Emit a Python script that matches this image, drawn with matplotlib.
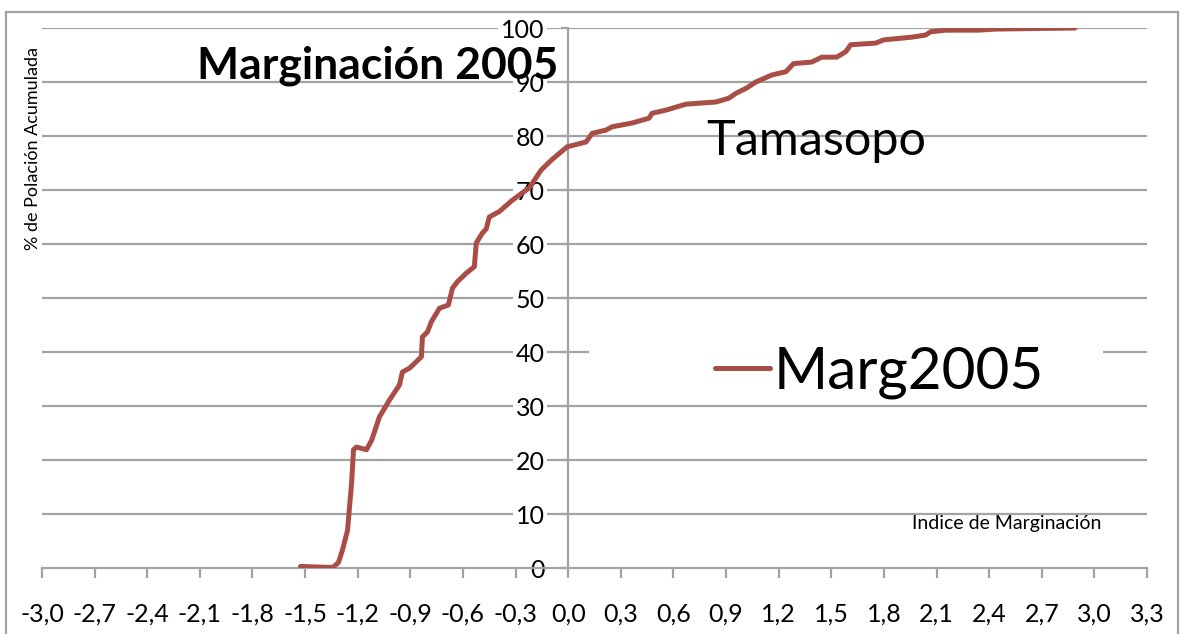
import matplotlib
matplotlib.use('Agg')
import matplotlib.pyplot as plt
from matplotlib.patches import Rectangle
from matplotlib.lines import Line2D
import numpy as np

plt.rcParams['font.family'] = ['Lato', 'DejaVu Sans']

# Marg2005: indice de marginacion vs % de poblacion acumulada
marg_x = [-1.526, -1.45, -1.343, -1.31, -1.287, -1.258, -1.235, -1.224, -1.207, -1.15,
          -1.12, -1.076, -1.019, -0.962, -0.945, -0.905, -0.837, -0.831, -0.803, -0.78,
          -0.734, -0.683, -0.66, -0.632, -0.581, -0.535, -0.524, -0.49, -0.467, -0.45,
          -0.393, -0.319, -0.222, -0.154, -0.097, -0.006, 0.102, 0.137, 0.216, 0.25,
          0.364, 0.461, 0.478, 0.558, 0.672, 0.843, 0.916, 0.956, 1.013, 1.07,
          1.161, 1.241, 1.285, 1.389, 1.446, 1.531, 1.582, 1.611, 1.753, 1.799,
          1.958, 2.038, 2.066, 2.152, 2.34, 2.436, 2.89]
marg_y = [0.3, 0.2, 0.1, 1.0, 3.3, 7.0, 15.7, 21.9, 22.4, 21.9,
          23.7, 28.0, 31.1, 33.9, 36.3, 37.0, 39.1, 42.8, 43.7, 45.6,
          48.1, 48.7, 51.8, 53.0, 54.6, 55.8, 60.2, 62.0, 62.8, 65.0,
          66.0, 68.1, 70.4, 73.7, 75.5, 78.0, 78.9, 80.5, 81.1, 81.7,
          82.4, 83.3, 84.2, 84.8, 85.9, 86.3, 87.0, 87.9, 88.8, 90.0,
          91.3, 91.9, 93.4, 93.7, 94.6, 94.6, 95.6, 96.9, 97.2, 97.8,
          98.3, 98.7, 99.3, 99.6, 99.6, 99.8, 100.0]

x_ticks = [-3.0, -2.7, -2.4, -2.1, -1.8, -1.5, -1.2, -0.9, -0.6, -0.3, 0.0,
           0.3, 0.6, 0.9, 1.2, 1.5, 1.8, 2.1, 2.4, 2.7, 3.0, 3.3]
x_tick_labels = ['-3,0', '-2,7', '-2,4', '-2,1', '-1,8', '-1,5', '-1,2', '-0,9', '-0,6',
                 '-0,3', '0,0', '0,3', '0,6', '0,9', '1,2', '1,5', '1,8', '2,1', '2,4',
                 '2,7', '3,0', '3,3']
y_ticks = [0, 10, 20, 30, 40, 50, 60, 70, 80, 90, 100]

grid_col = '#a3a3a3'
line_col = '#a94d47'

fig = plt.figure(figsize=(11.81, 6.34), dpi=100)
W, H = 1181, 634
ax = fig.add_axes([42 / W, 66 / H, 1105 / W, 540 / H])

# marco gris alrededor del grafico
fig.patches.append(Rectangle((6 / W, -0.05), 1172 / W, 1.05 - 12 / H,
                             transform=fig.transFigure, fill=False,
                             edgecolor=grid_col, linewidth=1.6, zorder=0))

ax.set_xlim(-3.0, 3.3)
ax.set_ylim(0, 100)

for yv in y_ticks[1:]:
    ax.axhline(yv, color=grid_col, linewidth=1.6, zorder=1)

ax.plot(marg_x, marg_y, color=line_col, linewidth=3.6,
        solid_capstyle='round', solid_joinstyle='round', zorder=4)

# ejes: y en x=0, x en y=0
for s in ['top', 'right']:
    ax.spines[s].set_visible(False)
ax.spines['left'].set_position(('data', 0))
ax.spines['left'].set_color(grid_col)
ax.spines['left'].set_linewidth(1.6)
ax.spines['bottom'].set_color(grid_col)
ax.spines['bottom'].set_linewidth(1.6)
ax.spines['left'].set_zorder(2)

ax.set_xticks(x_ticks)
ax.set_xticklabels(x_tick_labels)
ax.set_yticks(y_ticks)
ax.tick_params(axis='x', direction='out', length=7, width=1.6, color=grid_col,
               labelsize=18, pad=18)
ax.tick_params(axis='y', direction='out', length=5, width=1.6, color=grid_col,
               labelsize=18, pad=12)
for lab in ax.get_yticklabels():
    lab.set_bbox(dict(facecolor='white', edgecolor='none', pad=2))
    lab.set_zorder(3)

# zona blanca de la leyenda
ax.add_patch(Rectangle((0.12, 31.5), 2.93, 10.5, facecolor='white',
                       edgecolor='none', zorder=2))
handle = Line2D([], [], color=line_col, linewidth=3.6, solid_capstyle='round')
leg = ax.legend([handle], ['Marg2005'], loc='center left',
                bbox_to_anchor=(715 / W, (634 - 372) / H),
                bbox_transform=fig.transFigure, frameon=False,
                fontsize=42, handlelength=0.95, handletextpad=0.05,
                borderpad=0, borderaxespad=0)

ax.text(3.04, 8.3, 'Indice de Marginación', fontsize=14, ha='right', va='center', zorder=5)

fig.text(197 / W, (634 - 78) / H, 'Marginación 2005', fontsize=32,
         fontweight='bold', ha='left', va='baseline', zorder=10)
fig.text(706 / W, (634 - 155) / H, 'Tamasopo', fontsize=35,
         ha='left', va='baseline', zorder=10)
fig.text(33 / W, (634 - 148) / H, '% de Polación Acumulada', fontsize=13,
         rotation=90, ha='center', va='center')

fig.savefig('out.png', dpi=100)
